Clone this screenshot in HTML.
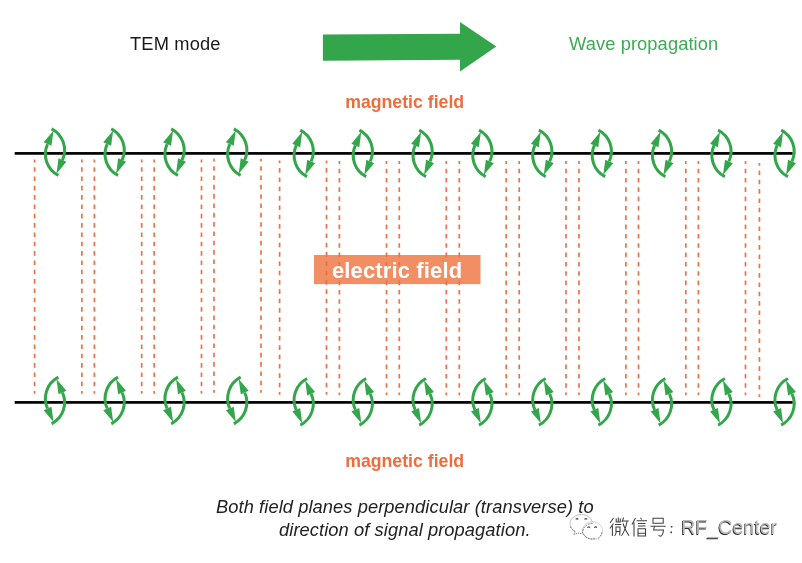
<!DOCTYPE html>
<html><head><meta charset="utf-8"><style>
html,body{margin:0;padding:0;background:#fff;}
svg{display:block;will-change:transform;}
</style></head><body>
<svg width="802" height="563" viewBox="0 0 802 563">
<line x1="34.6" y1="159.60" x2="34.6" y2="393.70" stroke="#ef7145" stroke-width="1.7" stroke-dasharray="4.6 4.73" stroke-dashoffset="1.8"/>
<line x1="81.85" y1="159.60" x2="81.85" y2="393.70" stroke="#ef7145" stroke-width="1.7" stroke-dasharray="4.6 4.73" stroke-dashoffset="1.8"/>
<line x1="94.4" y1="159.60" x2="94.4" y2="393.70" stroke="#ef7145" stroke-width="1.7" stroke-dasharray="4.6 4.73" stroke-dashoffset="1.8"/>
<line x1="141.7" y1="159.60" x2="141.7" y2="393.70" stroke="#ef7145" stroke-width="1.7" stroke-dasharray="4.6 4.73" stroke-dashoffset="1.8"/>
<line x1="154.2" y1="159.60" x2="154.2" y2="393.70" stroke="#ef7145" stroke-width="1.7" stroke-dasharray="4.6 4.73" stroke-dashoffset="1.8"/>
<line x1="201.5" y1="159.60" x2="201.5" y2="393.70" stroke="#ef7145" stroke-width="1.7" stroke-dasharray="4.6 4.73" stroke-dashoffset="1.8"/>
<line x1="214" y1="158.60" x2="214" y2="392.70" stroke="#ef7145" stroke-width="1.7" stroke-dasharray="4.6 4.73" stroke-dashoffset="1.8"/>
<line x1="261" y1="158.65" x2="261" y2="392.75" stroke="#ef7145" stroke-width="1.7" stroke-dasharray="4.6 4.73" stroke-dashoffset="1.8"/>
<line x1="279.6" y1="160.55" x2="279.6" y2="394.65" stroke="#ef7145" stroke-width="1.7" stroke-dasharray="4.6 4.73" stroke-dashoffset="1.8"/>
<line x1="326.5" y1="160.55" x2="326.5" y2="394.65" stroke="#ef7145" stroke-width="1.7" stroke-dasharray="4.6 4.73" stroke-dashoffset="1.8"/>
<line x1="339.4" y1="161.10" x2="339.4" y2="395.20" stroke="#ef7145" stroke-width="1.7" stroke-dasharray="4.6 4.73" stroke-dashoffset="1.8"/>
<line x1="386.5" y1="161.10" x2="386.5" y2="395.20" stroke="#ef7145" stroke-width="1.7" stroke-dasharray="4.6 4.73" stroke-dashoffset="1.8"/>
<line x1="399.3" y1="161.10" x2="399.3" y2="395.20" stroke="#ef7145" stroke-width="1.7" stroke-dasharray="4.6 4.73" stroke-dashoffset="1.8"/>
<line x1="446.3" y1="161.10" x2="446.3" y2="395.20" stroke="#ef7145" stroke-width="1.7" stroke-dasharray="4.6 4.73" stroke-dashoffset="1.8"/>
<line x1="459.3" y1="161.10" x2="459.3" y2="395.20" stroke="#ef7145" stroke-width="1.7" stroke-dasharray="4.6 4.73" stroke-dashoffset="1.8"/>
<line x1="506.2" y1="161.10" x2="506.2" y2="395.20" stroke="#ef7145" stroke-width="1.7" stroke-dasharray="4.6 4.73" stroke-dashoffset="1.8"/>
<line x1="519.2" y1="161.10" x2="519.2" y2="395.20" stroke="#ef7145" stroke-width="1.7" stroke-dasharray="4.6 4.73" stroke-dashoffset="1.8"/>
<line x1="566" y1="161.10" x2="566" y2="395.20" stroke="#ef7145" stroke-width="1.7" stroke-dasharray="4.6 4.73" stroke-dashoffset="1.8"/>
<line x1="579" y1="161.10" x2="579" y2="395.20" stroke="#ef7145" stroke-width="1.7" stroke-dasharray="4.6 4.73" stroke-dashoffset="1.8"/>
<line x1="625.9" y1="161.10" x2="625.9" y2="395.20" stroke="#ef7145" stroke-width="1.7" stroke-dasharray="4.6 4.73" stroke-dashoffset="1.8"/>
<line x1="638.5" y1="161.10" x2="638.5" y2="395.20" stroke="#ef7145" stroke-width="1.7" stroke-dasharray="4.6 4.73" stroke-dashoffset="1.8"/>
<line x1="685.8" y1="161.10" x2="685.8" y2="395.20" stroke="#ef7145" stroke-width="1.7" stroke-dasharray="4.6 4.73" stroke-dashoffset="1.8"/>
<line x1="698.4" y1="161.10" x2="698.4" y2="395.20" stroke="#ef7145" stroke-width="1.7" stroke-dasharray="4.6 4.73" stroke-dashoffset="1.8"/>
<line x1="745.5" y1="161.10" x2="745.5" y2="395.20" stroke="#ef7145" stroke-width="1.7" stroke-dasharray="4.6 4.73" stroke-dashoffset="1.8"/>
<line x1="759.4" y1="162.90" x2="759.4" y2="397.00" stroke="#ef7145" stroke-width="1.7" stroke-dasharray="4.6 4.73" stroke-dashoffset="1.8"/>
<rect x="314" y="255" width="166.5" height="29.1" fill="rgb(239,114,61)" fill-opacity="0.8"/>
<text x="332.0" y="277.5" font-family="Liberation Sans" font-weight="bold" font-size="22" letter-spacing="0.13" fill="#fff">electric field</text>
<rect x="14.7" y="152.05" width="778" height="2.7" fill="#000"/>
<rect x="14.7" y="401.04999999999995" width="778" height="2.7" fill="#000"/>
<path d="M51.60 128.80A24.00 24.00 0 0 1 62.45 160.10" fill="none" stroke="#33a54a" stroke-width="3.0"/>
<path d="M56.47 173.64L66.38 161.84L58.52 158.36Z" fill="#33a54a"/>
<path d="M58.40 175.40A24.00 24.00 0 0 1 47.55 144.10" fill="none" stroke="#33a54a" stroke-width="3.0"/>
<path d="M53.53 130.56L43.62 142.36L51.48 145.84Z" fill="#33a54a"/>
<path d="M111.25 128.80A24.00 24.00 0 0 1 122.10 160.10" fill="none" stroke="#33a54a" stroke-width="3.0"/>
<path d="M116.12 173.64L126.03 161.84L118.17 158.36Z" fill="#33a54a"/>
<path d="M118.05 175.40A24.00 24.00 0 0 1 107.20 144.10" fill="none" stroke="#33a54a" stroke-width="3.0"/>
<path d="M113.18 130.56L103.27 142.36L111.13 145.84Z" fill="#33a54a"/>
<path d="M171.15 128.80A24.00 24.00 0 0 1 182.00 160.10" fill="none" stroke="#33a54a" stroke-width="3.0"/>
<path d="M176.02 173.64L185.93 161.84L178.07 158.36Z" fill="#33a54a"/>
<path d="M177.95 175.40A24.00 24.00 0 0 1 167.10 144.10" fill="none" stroke="#33a54a" stroke-width="3.0"/>
<path d="M173.08 130.56L163.17 142.36L171.03 145.84Z" fill="#33a54a"/>
<path d="M233.85 128.80A24.00 24.00 0 0 1 244.70 160.10" fill="none" stroke="#33a54a" stroke-width="3.0"/>
<path d="M238.72 173.64L248.63 161.84L240.77 158.36Z" fill="#33a54a"/>
<path d="M240.65 175.40A24.00 24.00 0 0 1 229.80 144.10" fill="none" stroke="#33a54a" stroke-width="3.0"/>
<path d="M235.78 130.56L225.87 142.36L233.73 145.84Z" fill="#33a54a"/>
<path d="M300.30 130.10A24.00 24.00 0 0 1 311.15 161.40" fill="none" stroke="#33a54a" stroke-width="3.0"/>
<path d="M305.17 174.94L315.08 163.14L307.22 159.66Z" fill="#33a54a"/>
<path d="M307.10 176.70A24.00 24.00 0 0 1 296.25 145.40" fill="none" stroke="#33a54a" stroke-width="3.0"/>
<path d="M302.23 131.86L292.32 143.66L300.18 147.14Z" fill="#33a54a"/>
<path d="M359.40 130.10A24.00 24.00 0 0 1 370.25 161.40" fill="none" stroke="#33a54a" stroke-width="3.0"/>
<path d="M364.27 174.94L374.18 163.14L366.32 159.66Z" fill="#33a54a"/>
<path d="M366.20 176.70A24.00 24.00 0 0 1 355.35 145.40" fill="none" stroke="#33a54a" stroke-width="3.0"/>
<path d="M361.33 131.86L351.42 143.66L359.28 147.14Z" fill="#33a54a"/>
<path d="M419.20 130.10A24.00 24.00 0 0 1 430.05 161.40" fill="none" stroke="#33a54a" stroke-width="3.0"/>
<path d="M424.07 174.94L433.98 163.14L426.12 159.66Z" fill="#33a54a"/>
<path d="M426.00 176.70A24.00 24.00 0 0 1 415.15 145.40" fill="none" stroke="#33a54a" stroke-width="3.0"/>
<path d="M421.13 131.86L411.22 143.66L419.08 147.14Z" fill="#33a54a"/>
<path d="M478.95 130.10A24.00 24.00 0 0 1 489.80 161.40" fill="none" stroke="#33a54a" stroke-width="3.0"/>
<path d="M483.82 174.94L493.73 163.14L485.87 159.66Z" fill="#33a54a"/>
<path d="M485.75 176.70A24.00 24.00 0 0 1 474.90 145.40" fill="none" stroke="#33a54a" stroke-width="3.0"/>
<path d="M480.88 131.86L470.97 143.66L478.83 147.14Z" fill="#33a54a"/>
<path d="M538.90 130.10A24.00 24.00 0 0 1 549.75 161.40" fill="none" stroke="#33a54a" stroke-width="3.0"/>
<path d="M543.77 174.94L553.68 163.14L545.82 159.66Z" fill="#33a54a"/>
<path d="M545.70 176.70A24.00 24.00 0 0 1 534.85 145.40" fill="none" stroke="#33a54a" stroke-width="3.0"/>
<path d="M540.83 131.86L530.92 143.66L538.78 147.14Z" fill="#33a54a"/>
<path d="M598.40 130.10A24.00 24.00 0 0 1 609.25 161.40" fill="none" stroke="#33a54a" stroke-width="3.0"/>
<path d="M603.27 174.94L613.18 163.14L605.32 159.66Z" fill="#33a54a"/>
<path d="M605.20 176.70A24.00 24.00 0 0 1 594.35 145.40" fill="none" stroke="#33a54a" stroke-width="3.0"/>
<path d="M600.33 131.86L590.42 143.66L598.28 147.14Z" fill="#33a54a"/>
<path d="M658.60 130.10A24.00 24.00 0 0 1 669.45 161.40" fill="none" stroke="#33a54a" stroke-width="3.0"/>
<path d="M663.47 174.94L673.38 163.14L665.52 159.66Z" fill="#33a54a"/>
<path d="M665.40 176.70A24.00 24.00 0 0 1 654.55 145.40" fill="none" stroke="#33a54a" stroke-width="3.0"/>
<path d="M660.53 131.86L650.62 143.66L658.48 147.14Z" fill="#33a54a"/>
<path d="M718.05 130.10A24.00 24.00 0 0 1 728.90 161.40" fill="none" stroke="#33a54a" stroke-width="3.0"/>
<path d="M722.92 174.94L732.83 163.14L724.97 159.66Z" fill="#33a54a"/>
<path d="M724.85 176.70A24.00 24.00 0 0 1 714.00 145.40" fill="none" stroke="#33a54a" stroke-width="3.0"/>
<path d="M719.98 131.86L710.07 143.66L717.93 147.14Z" fill="#33a54a"/>
<path d="M781.15 130.10A24.00 24.00 0 0 1 792.00 161.40" fill="none" stroke="#33a54a" stroke-width="3.0"/>
<path d="M786.02 174.94L795.93 163.14L788.07 159.66Z" fill="#33a54a"/>
<path d="M787.95 176.70A24.00 24.00 0 0 1 777.10 145.40" fill="none" stroke="#33a54a" stroke-width="3.0"/>
<path d="M783.08 131.86L773.17 143.66L781.03 147.14Z" fill="#33a54a"/>
<path d="M58.40 377.20A24.00 24.00 0 0 0 47.55 408.50" fill="none" stroke="#33a54a" stroke-width="3.0"/>
<path d="M53.53 422.04L43.62 410.24L51.48 406.76Z" fill="#33a54a"/>
<path d="M51.60 423.80A24.00 24.00 0 0 0 62.45 392.50" fill="none" stroke="#33a54a" stroke-width="3.0"/>
<path d="M56.47 378.96L66.38 390.76L58.52 394.24Z" fill="#33a54a"/>
<path d="M118.05 377.20A24.00 24.00 0 0 0 107.20 408.50" fill="none" stroke="#33a54a" stroke-width="3.0"/>
<path d="M113.18 422.04L103.27 410.24L111.13 406.76Z" fill="#33a54a"/>
<path d="M111.25 423.80A24.00 24.00 0 0 0 122.10 392.50" fill="none" stroke="#33a54a" stroke-width="3.0"/>
<path d="M116.12 378.96L126.03 390.76L118.17 394.24Z" fill="#33a54a"/>
<path d="M177.95 377.20A24.00 24.00 0 0 0 167.10 408.50" fill="none" stroke="#33a54a" stroke-width="3.0"/>
<path d="M173.08 422.04L163.17 410.24L171.03 406.76Z" fill="#33a54a"/>
<path d="M171.15 423.80A24.00 24.00 0 0 0 182.00 392.50" fill="none" stroke="#33a54a" stroke-width="3.0"/>
<path d="M176.02 378.96L185.93 390.76L178.07 394.24Z" fill="#33a54a"/>
<path d="M240.65 377.20A24.00 24.00 0 0 0 229.80 408.50" fill="none" stroke="#33a54a" stroke-width="3.0"/>
<path d="M235.78 422.04L225.87 410.24L233.73 406.76Z" fill="#33a54a"/>
<path d="M233.85 423.80A24.00 24.00 0 0 0 244.70 392.50" fill="none" stroke="#33a54a" stroke-width="3.0"/>
<path d="M238.72 378.96L248.63 390.76L240.77 394.24Z" fill="#33a54a"/>
<path d="M307.10 378.50A24.00 24.00 0 0 0 296.25 409.80" fill="none" stroke="#33a54a" stroke-width="3.0"/>
<path d="M302.23 423.34L292.32 411.54L300.18 408.06Z" fill="#33a54a"/>
<path d="M300.30 425.10A24.00 24.00 0 0 0 311.15 393.80" fill="none" stroke="#33a54a" stroke-width="3.0"/>
<path d="M305.17 380.26L315.08 392.06L307.22 395.54Z" fill="#33a54a"/>
<path d="M366.20 378.50A24.00 24.00 0 0 0 355.35 409.80" fill="none" stroke="#33a54a" stroke-width="3.0"/>
<path d="M361.33 423.34L351.42 411.54L359.28 408.06Z" fill="#33a54a"/>
<path d="M359.40 425.10A24.00 24.00 0 0 0 370.25 393.80" fill="none" stroke="#33a54a" stroke-width="3.0"/>
<path d="M364.27 380.26L374.18 392.06L366.32 395.54Z" fill="#33a54a"/>
<path d="M426.00 378.50A24.00 24.00 0 0 0 415.15 409.80" fill="none" stroke="#33a54a" stroke-width="3.0"/>
<path d="M421.13 423.34L411.22 411.54L419.08 408.06Z" fill="#33a54a"/>
<path d="M419.20 425.10A24.00 24.00 0 0 0 430.05 393.80" fill="none" stroke="#33a54a" stroke-width="3.0"/>
<path d="M424.07 380.26L433.98 392.06L426.12 395.54Z" fill="#33a54a"/>
<path d="M485.75 378.50A24.00 24.00 0 0 0 474.90 409.80" fill="none" stroke="#33a54a" stroke-width="3.0"/>
<path d="M480.88 423.34L470.97 411.54L478.83 408.06Z" fill="#33a54a"/>
<path d="M478.95 425.10A24.00 24.00 0 0 0 489.80 393.80" fill="none" stroke="#33a54a" stroke-width="3.0"/>
<path d="M483.82 380.26L493.73 392.06L485.87 395.54Z" fill="#33a54a"/>
<path d="M545.70 378.50A24.00 24.00 0 0 0 534.85 409.80" fill="none" stroke="#33a54a" stroke-width="3.0"/>
<path d="M540.83 423.34L530.92 411.54L538.78 408.06Z" fill="#33a54a"/>
<path d="M538.90 425.10A24.00 24.00 0 0 0 549.75 393.80" fill="none" stroke="#33a54a" stroke-width="3.0"/>
<path d="M543.77 380.26L553.68 392.06L545.82 395.54Z" fill="#33a54a"/>
<path d="M605.20 378.50A24.00 24.00 0 0 0 594.35 409.80" fill="none" stroke="#33a54a" stroke-width="3.0"/>
<path d="M600.33 423.34L590.42 411.54L598.28 408.06Z" fill="#33a54a"/>
<path d="M598.40 425.10A24.00 24.00 0 0 0 609.25 393.80" fill="none" stroke="#33a54a" stroke-width="3.0"/>
<path d="M603.27 380.26L613.18 392.06L605.32 395.54Z" fill="#33a54a"/>
<path d="M665.40 378.50A24.00 24.00 0 0 0 654.55 409.80" fill="none" stroke="#33a54a" stroke-width="3.0"/>
<path d="M660.53 423.34L650.62 411.54L658.48 408.06Z" fill="#33a54a"/>
<path d="M658.60 425.10A24.00 24.00 0 0 0 669.45 393.80" fill="none" stroke="#33a54a" stroke-width="3.0"/>
<path d="M663.47 380.26L673.38 392.06L665.52 395.54Z" fill="#33a54a"/>
<path d="M724.85 378.50A24.00 24.00 0 0 0 714.00 409.80" fill="none" stroke="#33a54a" stroke-width="3.0"/>
<path d="M719.98 423.34L710.07 411.54L717.93 408.06Z" fill="#33a54a"/>
<path d="M718.05 425.10A24.00 24.00 0 0 0 728.90 393.80" fill="none" stroke="#33a54a" stroke-width="3.0"/>
<path d="M722.92 380.26L732.83 392.06L724.97 395.54Z" fill="#33a54a"/>
<path d="M787.95 378.50A24.00 24.00 0 0 0 777.10 409.80" fill="none" stroke="#33a54a" stroke-width="3.0"/>
<path d="M783.08 423.34L773.17 411.54L781.03 408.06Z" fill="#33a54a"/>
<path d="M781.15 425.10A24.00 24.00 0 0 0 792.00 393.80" fill="none" stroke="#33a54a" stroke-width="3.0"/>
<path d="M786.02 380.26L795.93 392.06L788.07 395.54Z" fill="#33a54a"/>
<path d="M322.9 34.55L460 33.7V21.9L496.3 46.5L460 71.5V59.8L322.9 60.8Z" fill="#33a54a"/>
<text x="130" y="49.7" font-family="Liberation Sans" font-size="18.3" letter-spacing="0.15" fill="#1a1a1a">TEM mode</text>
<text x="569" y="50" font-family="Liberation Sans" font-size="18.3" letter-spacing="0.1" fill="#3dab53">Wave propagation</text>
<text x="345.2" y="108.3" font-family="Liberation Sans" font-weight="bold" font-size="17.7" fill="#ef6c3c">magnetic field</text>
<text x="345.2" y="467.4" font-family="Liberation Sans" font-weight="bold" font-size="17.7" fill="#ef6c3c">magnetic field</text>
<text x="216" y="512.9" font-family="Liberation Sans" font-style="italic" font-size="18.3" letter-spacing="0.08" fill="#222">Both field planes perpendicular (transverse) to</text>
<text x="279" y="535.6" font-family="Liberation Sans" font-style="italic" font-size="18.3" letter-spacing="0.08" fill="#222">direction of signal propagation.</text>
<g fill="none" stroke-width="0.9">
<path d="M573.6 534.4 L575.2 531.6 A11.2 9.3 0 1 1 592.4 523.4" stroke="#bbb"/>
<path d="M575.2 531.6 A11.2 9.3 0 0 1 570.2 526" stroke="#6a6a6a" stroke-dasharray="1.6 1.1"/>
<path d="M573.6 534.4 L577.8 533.1 L582.4 533.8" stroke="#777" stroke-dasharray="1.4 0.8"/>
<path d="M582.6 532.3 A10.1 9 0 1 1 598.3 538.1 L599.2 539.6 L595.6 538.6 A10.1 9 0 0 1 582.6 532.3Z" fill="#fff" stroke="#d0d0d0"/>
<path d="M592.4 523.4 A10.1 9 0 0 0 582.6 532.3 A10.1 9 0 0 0 595.6 538.6" stroke="#5e5e5e" stroke-dasharray="1.8 1"/>
<path d="M601.8 532.5 A10.1 9 0 0 1 598.3 538.1" stroke="#666" stroke-dasharray="1.5 1"/>
<path d="M575.7 519.3 q1.3 -1.3 2.6 0 M584.5 519.3 q1.3 -1.3 2.6 0 M587.4 527.6 q1.3 -1.3 2.6 0 M594.3 527.6 q1.3 -1.3 2.6 0" stroke="#444" stroke-width="1.1"/>
</g><g fill="none" stroke="#404040" stroke-width="1.05" stroke-linecap="butt">
<path d="M613.5 518 L610 523 M613.5 523.5 L609.8 528.5 M612.4 525.5 V536"/>
<path d="M616.2 518.5 V522 M618.3 517.6 V522 M620.3 518.5 V522 M615.7 522 H620.8 M615 524.5 H621.2 M616 527 V531.5 H620 V527 Z M616.3 531.5 Q616 534.5 614.6 536 M619.8 531.5 V535.5"/>
<path d="M623.6 517.6 L622 522 M622.4 521 H628.8 M627 521.5 Q625.5 530 621.5 535.8 M623 523.5 Q625 530 629 535.8"/>
<path d="M635.5 518 L632 524.5 M634 522.5 V536.5"/>
<path d="M640.5 517.8 L641.7 519.5 M636.6 520.8 H647 M638 523.4 H645.5 M638 526 H645.5 M638 528.8 H645.5 V536 H638 Z M638 533.3 H645.5"/>
<path d="M653 518.3 H663.2 V523.3 H653 Z M650.5 526.3 H665.7 M654.5 526.3 L653.6 530 H663.5 Q663 535.5 660.5 536.2 L658.5 535.5"/>
<path d="M671.6 526 V527.6 M671.2 531.6 V533.2" stroke-width="1.6"/>
</g><text x="680.6" y="534.9" font-family="Liberation Sans" font-size="19.6" fill="#2a2a2a">RF_Center</text><text x="681.3" y="534.3" font-family="Liberation Sans" font-size="19.6" fill="#b8b8b8">RF_Center</text>
</svg>
</body></html>
